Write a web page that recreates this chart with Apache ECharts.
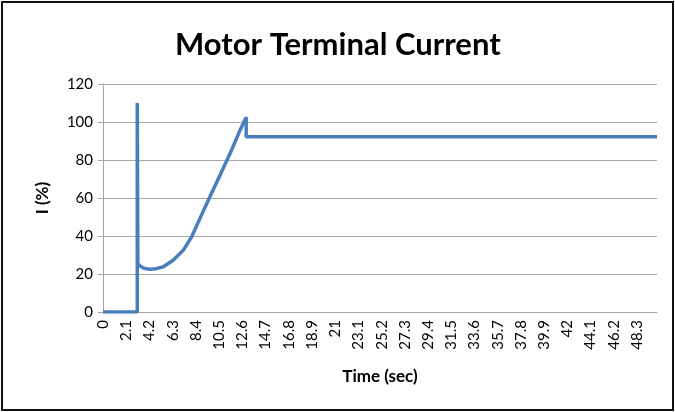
<!DOCTYPE html>
<html>
<head>
<meta charset="utf-8">
<script src="https://cdn.jsdelivr.net/npm/echarts@6/dist/echarts.min.js"></script>
<style>
  html, body { margin: 0; padding: 0; background: #fff; }
  #frame { position: absolute; left: 1px; top: 1px; width: 669px; height: 406px; border: 2px solid #111; }
  #main { position: absolute; left: 0; top: 0; width: 675px; height: 412px; }
</style>
</head>
<body>
<div id="frame"></div>
<div id="main"></div>
<script>
// time (sec) and terminal current (%)
var timeSec = [0, 3.1, 3.1, 3.15, 3.35, 3.7, 4.25, 4.8, 5.46, 6.37, 7.27, 8.02, 8.78, 9.69, 10.59, 11.5, 12.4, 12.95, 12.95, 50.1];
var currentPct = [0, 0, 110, 25.5, 24.2, 23.0, 22.5, 22.8, 23.8, 27.4, 32.6, 39.6, 49.4, 60.9, 72.1, 83.5, 95.8, 102.5, 92.2, 92.2];
var yTicks = [0, 20, 40, 60, 80, 100, 120];
var xStep = 2.1;

var points = timeSec.map(function (t, i) { return [t, currentPct[i]]; });

var chart = echarts.init(document.getElementById('main'));
chart.setOption({
  animation: false,
  textStyle: { fontFamily: 'Lato' },
  title: {
    text: 'Motor Terminal Current',
    left: 170,
    top: 24,
    textStyle: { fontFamily: 'Lato', fontSize: 31, fontWeight: 'bold', color: '#000' }
  },
  grid: { left: 103, right: 18, top: 84, bottom: 100 },
  xAxis: {
    type: 'value',
    min: 0,
    max: 50.1,
    interval: xStep,
    name: 'Time (sec)',
    nameLocation: 'middle',
    nameGap: 56,
    nameTextStyle: { fontFamily: 'Lato', fontSize: 17, fontWeight: 'bold', color: '#000' },
    axisLine: { show: true, lineStyle: { color: '#a6a6a6', width: 1 } },
    axisTick: { show: false },
    splitLine: { show: false },
    axisLabel: {
      rotate: 90,
      margin: 8,
      fontSize: 15,
      color: '#000',
      showMaxLabel: false,
      formatter: function (v) { return String(Math.round(v * 10) / 10); }
    }
  },
  yAxis: {
    type: 'value',
    min: yTicks[0],
    max: yTicks[yTicks.length - 1],
    interval: 20,
    name: 'I (%)',
    nameLocation: 'middle',
    nameGap: 52,
    nameTextStyle: { fontFamily: 'Lato', fontSize: 17, fontWeight: 'bold', color: '#000' },
    axisLine: { show: true, lineStyle: { color: '#a6a6a6', width: 1 } },
    axisTick: { show: true, length: 5, lineStyle: { color: '#a6a6a6' } },
    splitLine: { show: true, lineStyle: { color: '#a6a6a6', width: 1 } },
    axisLabel: { fontSize: 15, color: '#000', margin: 10 }
  },
  series: [{
    type: 'line',
    data: points,
    showSymbol: false,
    smooth: false,
    lineStyle: { color: '#4a7ebb', width: 3.5 },
    itemStyle: { color: '#4a7ebb' }
  }]
});
</script>
</body>
</html>
